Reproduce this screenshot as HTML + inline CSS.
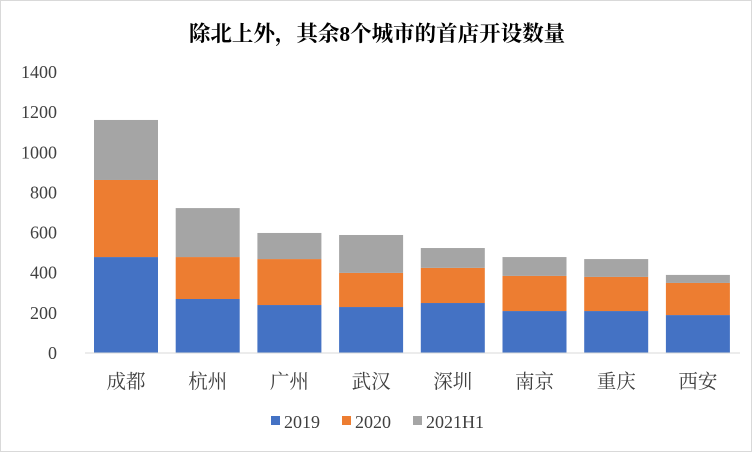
<!DOCTYPE html>
<html><head><meta charset="utf-8"><style>
body{margin:0;background:#fff}
svg text{font-family:"Liberation Serif","Noto Serif CJK SC",serif;fill:#404040}
</style></head><body>
<svg width="752" height="452">
<rect x="0.5" y="0.5" width="751" height="451" fill="#fff" stroke="#d9d9d9"/>
<text x="377" y="41" text-anchor="middle" font-size="21.5" font-weight="bold" style="fill:#000">除北上外，其余8个城市的首店开设数量</text>
<g id="yaxis"></g><g id="bars"></g><g id="xlabels"></g>
<line x1="85" y1="353" x2="740" y2="353" stroke="#d9d9d9"/>
<g>
<rect x="271" y="416" width="9" height="9" fill="#4472c4"/>
<text x="284" y="428" font-size="18">2019</text>
<rect x="342" y="416" width="9" height="9" fill="#ed7d31"/>
<text x="355" y="428" font-size="18">2020</text>
<rect x="413" y="416" width="9" height="9" fill="#a5a5a5"/>
<text x="426" y="428" font-size="18">2021H1</text>
</g>
</svg>
<script>
const categories=["成都","杭州","广州","武汉","深圳","南京","重庆","西安"];
const s2019=[478,269,239,229,249,209,209,189];
const s2020=[384,209,229,170,175,175,170,160];
const s2021=[299,244,130,189,99,94,89,40];
const yTicks=[0,200,400,600,800,1000,1200,1400];
const NS="http://www.w3.org/2000/svg";
const y=v=>353-v*(281/1400);
const x=i=>126+i*81.7;
const bw=64;
const ya=document.getElementById('yaxis');
yTicks.forEach(t=>{const e=document.createElementNS(NS,'text');
e.setAttribute('x',57);e.setAttribute('y',y(t)+6);e.setAttribute('text-anchor','end');e.setAttribute('font-size','18');


e.textContent=t;ya.appendChild(e);});
const bars=document.getElementById('bars'),xl=document.getElementById('xlabels');
const series=[[s2019,'#4472c4','2019'],[s2020,'#ed7d31','2020'],[s2021,'#a5a5a5','2021h1']];
categories.forEach((c,i)=>{let base=0;
series.forEach(([arr,col,nm])=>{const r=document.createElementNS(NS,'rect');
r.setAttribute('x',x(i)-bw/2);r.setAttribute('y',y(base+arr[i]));r.setAttribute('width',bw);r.setAttribute('height',y(base)-y(base+arr[i]));r.setAttribute('fill',col);


bars.appendChild(r);base+=arr[i];});
const t=document.createElementNS(NS,'text');t.setAttribute('x',x(i));t.setAttribute('y',388);t.setAttribute('text-anchor','middle');t.setAttribute('font-size','19.5');


t.textContent=c;xl.appendChild(t);});
</script>
</body></html>
